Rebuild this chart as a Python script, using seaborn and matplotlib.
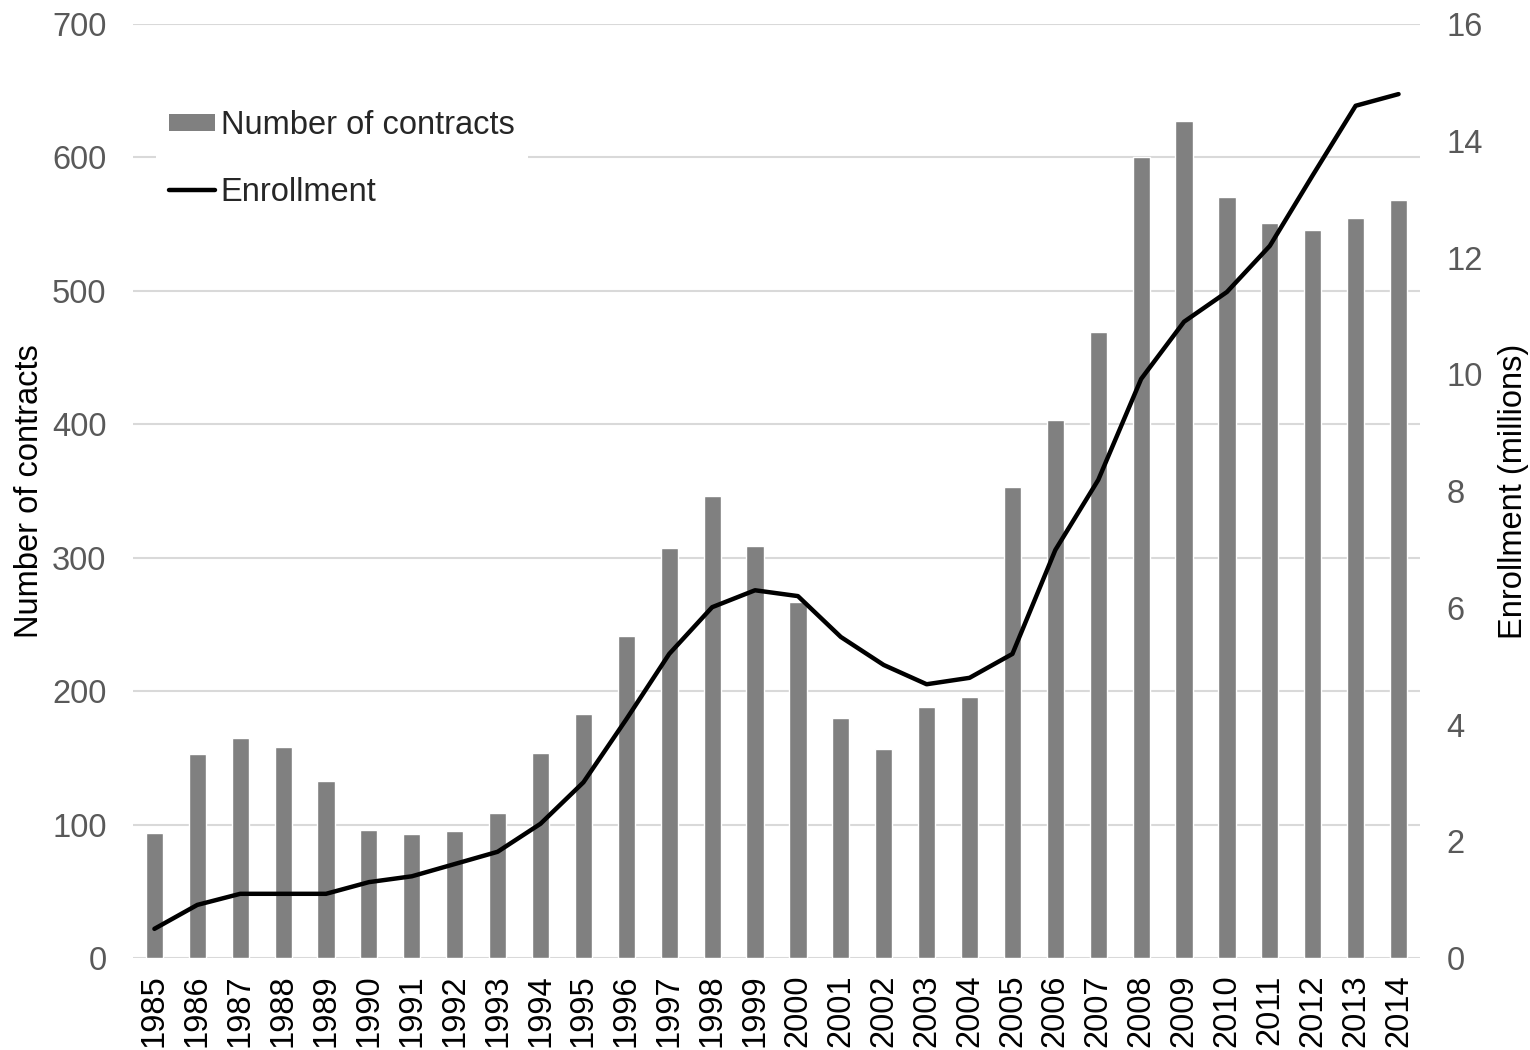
import matplotlib
matplotlib.use("Agg")
import matplotlib.pyplot as plt
import seaborn as sns
import pandas as pd
import numpy as np
from matplotlib.patches import Patch
from matplotlib.lines import Line2D

years = [str(y) for y in range(1985, 2015)]
contracts = [94, 153, 165, 158, 133, 96, 93, 95, 109, 154, 183, 241, 307, 346, 309,
             267, 180, 157, 188, 196, 353, 403, 469, 600, 627, 570, 551, 546, 555, 568]
enrollment = [0.50, 0.91, 1.10, 1.10, 1.10, 1.30, 1.40, 1.61, 1.82, 2.30, 3.01, 4.09,
              5.21, 6.01, 6.30, 6.20, 5.50, 5.02, 4.69, 4.80, 5.21, 6.99, 8.19, 9.92,
              10.9, 11.41, 12.2, 13.41, 14.6, 14.8]

sns.set_style("white")
plt.rcParams['font.family'] = ['Liberation Sans', 'DejaVu Sans']

df = pd.DataFrame({"year": years, "contracts": contracts, "enrollment": enrollment})
df["pos"] = np.arange(len(df))

fig = plt.figure(figsize=(15.3, 10.5), dpi=100)
ax = fig.add_axes([0.0869, 0.0876, 0.8412, 0.8895])

tick_color = "#595959"
grid_color = "#d9d9d9"
fs = 23.5

sns.barplot(data=df, x="year", y="contracts", color="#808080", width=0.4,
            saturation=1, ax=ax, zorder=2)
ax.set_ylim(0, 700)
ax.set_yticks(range(0, 701, 100))
ax.set_xlim(-0.5, len(years) - 0.5)
ax.yaxis.grid(True, color=grid_color, linewidth=1.5, zorder=0)
ax.set_axisbelow(True)
for s in ax.spines.values():
    s.set_visible(False)
ax.set_xlabel("")
ax.set_ylabel("Number of contracts", fontsize=fs, color="#000000", labelpad=5)
ax.tick_params(axis="y", labelsize=fs, labelcolor=tick_color, length=0, pad=19)
ax.tick_params(axis="x", labelsize=fs, labelcolor="#000000", length=0, pad=12)
plt.setp(ax.get_xticklabels(), rotation=90)

ax2 = ax.twinx()
sns.lineplot(data=df, x="pos", y="enrollment", color="black", linewidth=3.2,
             ax=ax2, sort=False, zorder=3)
ax2.set_ylim(0, 16)
ax2.set_yticks(range(0, 17, 2))
ax2.set_xlim(-0.5, len(years) - 0.5)
for s in ax2.spines.values():
    s.set_visible(False)
ax2.set_xlabel("")
ax2.set_ylabel("Enrollment (millions)", fontsize=fs, color="#000000", labelpad=11)
ax2.tick_params(axis="y", labelsize=fs, labelcolor=tick_color, length=0, pad=19)
ax2.grid(False)

handles = [Patch(facecolor="#808080", edgecolor="none"),
           Line2D([0], [0], color="black", linewidth=3.2)]
leg = ax2.legend(handles, ["Number of contracts", "Enrollment"], loc="upper left",
                 bbox_to_anchor=(0.018, 0.922), fontsize=fs, frameon=True,
                 facecolor="white", edgecolor="none", framealpha=1,
                 handlelength=1.4, handleheight=0.45, handletextpad=0.18,
                 labelspacing=1.09, borderpad=0.4, borderaxespad=0)
leg.set_zorder(10)

fig.savefig("out.png", dpi=100)
